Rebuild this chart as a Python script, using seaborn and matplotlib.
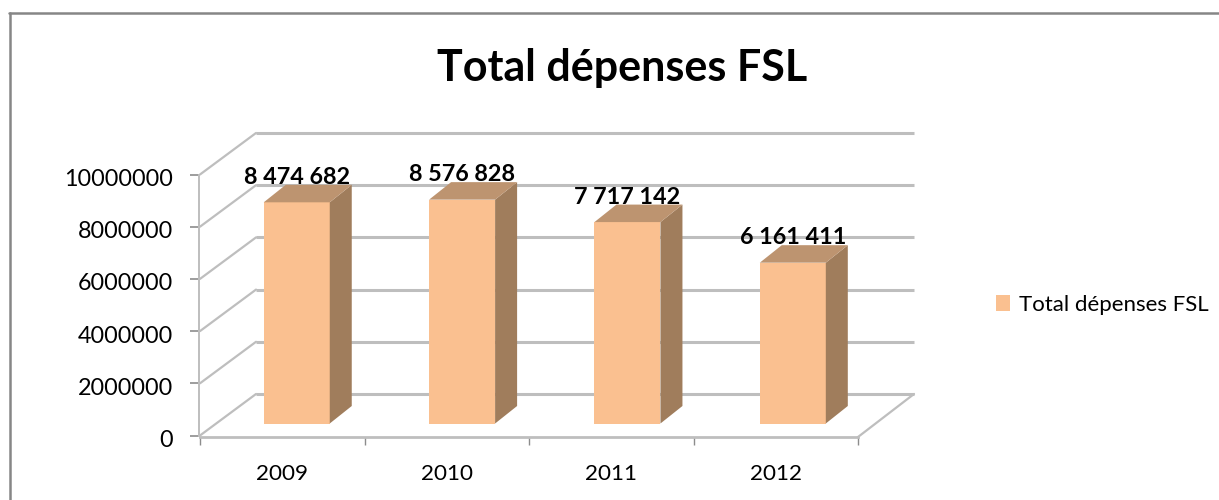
import matplotlib
matplotlib.use("Agg")
import matplotlib.pyplot as plt
from matplotlib.lines import Line2D
from matplotlib.patches import Polygon
from matplotlib.transforms import ScaledTranslation
import pandas as pd
import seaborn as sns

years = ["2009", "2010", "2011", "2012"]
totals = [8474682, 8576828, 7717142, 6161411]
value_labels = ["8 474 682", "8 576 828", "7 717 142", "6 161 411"]
y_ticks = [0, 2000000, 4000000, 6000000, 8000000, 10000000]
series_name = "Total dépenses FSL"
chart_title = "Total dépenses FSL"

W, H = 1219, 500
GRID = "#BEBEBE"
FRONT, SIDE, TOP = "#FAC090", "#A07D5C", "#BD9470"
FONT = ["Lato", "DejaVu Sans"]

sns.set_theme(style="white")
plt.rcParams["font.family"] = FONT

fig = plt.figure(figsize=(W / 100, H / 100), dpi=100, facecolor="white")
ax_left, ax_right, y0_px, y10_px = 200, 858, 435.5, 174.5
ax = fig.add_axes([ax_left / W, (H - y0_px) / H, (ax_right - ax_left) / W, (y0_px - y10_px) / H])
df = pd.DataFrame({"year": years, "total": totals})
sns.barplot(data=df, x="year", y="total", ax=ax, color=FRONT, saturation=1, width=66 / 164.5,
            label=series_name, zorder=3, linewidth=0, legend=False)
ax.set_xlim(-0.5, 3.5)
ax.set_ylim(0, y_ticks[-1])
ax.patch.set_alpha(0)
if ax.get_legend() is not None:
    ax.get_legend().remove()

# pixel -> data scale
px_x = 4 / (ax_right - ax_left)
px_y = y_ticks[-1] / (y0_px - y10_px)
wall_dx, wall_dy = 56 * px_x, 41.5 * px_y
bar_dy = 12 * px_y
side_dx, side_dy = 22 * px_x, 17.5 * px_y

# back wall and floor
for v in y_ticks:
    ax.plot([-0.5 + wall_dx, 3.5 + wall_dx], [v + wall_dy] * 2, color=GRID, lw=2.2, clip_on=False, zorder=1,
            solid_capstyle="butt")
    ax.plot([-0.5, -0.5 + wall_dx], [v, v + wall_dy], color=GRID, lw=1.6, clip_on=False, zorder=1)
ax.plot([3.5, 3.5 + wall_dx], [-1.5 * px_y, wall_dy], color=GRID, lw=1.6, clip_on=False, zorder=1)

# 3D bars
for i, (patch, v, lab) in enumerate(zip(ax.patches, totals, value_labels)):
    bar_dx = (14.5 + 0.85 * i) * px_x
    x0 = patch.get_x() + bar_dx
    w = patch.get_width()
    patch.set_x(x0)
    patch.set_y(bar_dy)
    x1 = x0 + w
    top = v + bar_dy
    ax.add_patch(Polygon([(x1, bar_dy), (x1 + side_dx, bar_dy + side_dy), (x1 + side_dx, top + side_dy), (x1, top)],
                         closed=True, facecolor=SIDE, edgecolor="none", clip_on=False, zorder=3))
    ax.add_patch(Polygon([(x0, top), (x1, top), (x1 + side_dx, top + side_dy), (x0 + side_dx, top + side_dy)],
                         closed=True, facecolor=TOP, edgecolor="none", clip_on=False, zorder=3))
    ax.text(x0 + w / 2, top + 25 * px_y, lab, ha="center", va="center", fontsize=16.8, fontweight="bold",
            color="black", clip_on=False, zorder=5)

# axes
sns.despine(ax=ax, top=True, right=True)
ax.spines["left"].set_color(GRID)
ax.spines["left"].set_linewidth(1.4)
ax.spines["left"].set_position(("outward", 1))
ax.spines["bottom"].set_color(GRID)
ax.spines["bottom"].set_linewidth(2)
ax.spines["bottom"].set_position(("outward", 1.1))
ax.set_xlabel("")
ax.set_ylabel("")
ax.set_yticks(y_ticks)
ax.set_yticklabels([str(v) for v in y_ticks], fontsize=16.8, color="black")
ax.tick_params(axis="y", left=True, length=6.5, width=1.2, color="#8C8C8C", pad=12)
shift = ScaledTranslation(0, -3 / 100, fig.dpi_scale_trans)
for lbl in ax.get_yticklabels():
    lbl.set_transform(lbl.get_transform() + shift)
ax.set_xticks(range(len(years)))
ax.set_xticklabels(years, fontsize=16.2, color="black")
ax.tick_params(axis="x", which="major", bottom=False, length=0, pad=19.5)
ax.set_xticks([-0.5, 0.5, 1.5, 2.5, 3.5], minor=True)
ax.tick_params(axis="x", which="minor", bottom=True, length=6, width=1, color="#8C8C8C")

# title and legend
fig.suptitle(chart_title, x=622 / W, y=1 - 68 / H, va="center", ha="center", fontsize=31, fontweight="bold", color="black")
handles = [Polygon([(0, 0)], closed=True, facecolor=FRONT, edgecolor="none", label=series_name)]
leg = fig.legend(handles=handles, loc="center left", bbox_to_anchor=(996 / W, 1 - 305 / H), frameon=False,
                 fontsize=16, handlelength=0.65, handleheight=0.7, handletextpad=0.4, borderpad=0, borderaxespad=0,
                 labelcolor="black")

# chart frame
BORDER = "#868686"
fig.add_artist(Line2D([9.5 / W, 9.5 / W], [0, 1 - 13 / H], color=BORDER, lw=1.8, transform=fig.transFigure))
fig.add_artist(Line2D([9 / W, 1], [1 - 13 / H, 1 - 13 / H], color=BORDER, lw=1.8, transform=fig.transFigure))

fig.savefig("out.png", dpi=100, facecolor="white")
